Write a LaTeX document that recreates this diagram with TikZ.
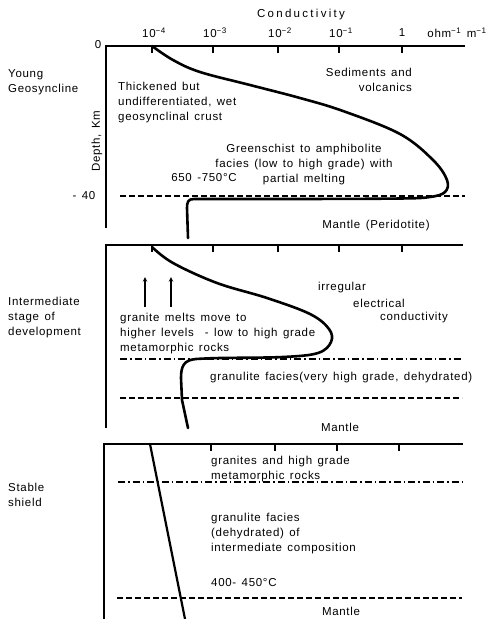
\documentclass[tikz,border=0pt]{standalone}
\usepackage{fontspec}
\setmainfont{Liberation Sans}[LetterSpace=6,WordSpace={1.4}]
\tikzset{
  axisline/.style={line width=1.3pt},
  profile/.style={line width=2.6pt, line join=round, line cap=round},
  boundary/.style={line width=1.1pt, dash pattern=on 6pt off 3pt},
  facies/.style={line width=1.1pt, dash pattern=on 7pt off 3pt on 1.5pt off 3pt},
  lbl/.style={anchor=west, align=left, inner sep=0pt},
}
\begin{document}
\begin{tikzpicture}[x=1pt,y=-1pt,font=\fontsize{11.5}{15}\selectfont]
\useasboundingbox (0,0) rectangle (497,619);

% scale
\node (title) at (301,15) {\addfontfeatures{LetterSpace=20}Conductivity};
\node (t4) at (154,33) {10\textsuperscript{−4}};
\node (t3) at (215,33) {10\textsuperscript{−3}};
\node (t2) at (280,33) {10\textsuperscript{−2}};
\node (t1) at (341,33) {10\textsuperscript{−1}};
\node (t0) at (402,33) {1};
\node (unit) at (457,33) {ohm\textsuperscript{−1} m\textsuperscript{−1}};

% young geosyncline
\draw[axisline] (106,228) -- (106,46) -- (465,46);
\foreach \x in {152,213,278,339,402} \draw[axisline] (\x,46) -- (\x,53);
\node (zero) at (98,45) {0};
\node (forty) at (84,196) {- 40};
\node[rotate=90] (depth) at (97,141) {Depth, Km};
\draw[boundary] (120,196) -- (465,196);
\draw[profile] plot[smooth, tension=0.6] coordinates {(152,46) (173,60) (200,72) (250,85) (300,98) (343,111) (400,134) (433,160) (447,180) (445,192) (430,197) (400,198.5) (300,199) (200,199)}
  -- (194,199) .. controls (188,199) and (187,202) .. (187,208) -- (188,238);
\node[lbl] (young) at (8,82) {Young\\Geosyncline};
\node[lbl] (crust) at (118,103) {Thickened but\\undifferentiated, wet\\geosynclinal crust};
\node[anchor=east, align=right, inner sep=0pt] (sed) at (412,80) {Sediments and\\volcanics};
\node[align=center, inner sep=0pt] (green) at (304,165) {Greenschist to amphibolite\\facies (low to high grade) with\\partial melting};
\node (temp1) at (204,178) {650 -750°C};
\node (mantle1) at (376,226) {Mantle (Peridotite)};

% intermediate stage
\draw[axisline] (106,428) -- (106,245) -- (463,245);
\foreach \x in {152,213,278,339,402} \draw[axisline] (\x,245) -- (\x,252);
\draw[profile] plot[smooth, tension=0.6] coordinates {(152,247) (173,263) (217,283) (267,298) (310,314) (329,329) (331,342) (318,353) (283,357) (220,358) (196,359)}
  .. controls (184,360) and (181,366) .. (181,378) -- (182,400) -- (188,428);
\coordinate (melt1a) at (145,307);
\coordinate (melt1b) at (145,277);
\coordinate (melt2a) at (171,307);
\coordinate (melt2b) at (171,277);
\draw[line width=1.1pt,-stealth] (melt1a) -- (melt1b);
\draw[line width=1.1pt,-stealth] (melt2a) -- (melt2b);
\draw[facies] (120,359) -- (462,359);
\draw[boundary] (120,398) -- (462,398);
\node[lbl] (inter) at (8,318) {Intermediate\\stage of\\development};
\node[lbl] (melts) at (120,334) {granite melts move to\\higher levels \ - low to high grade\\metamorphic rocks};
\node[lbl] (irr1) at (318,288) {irregular};
\node[lbl] (irr2) at (353,303) {electrical};
\node[lbl] (irr3) at (380,318) {conductivity};
\node[lbl] (gran1) at (210,378) {granulite facies(very high grade, dehydrated)};
\node (mantle2) at (340,427) {Mantle};

% stable shield
\draw[axisline] (104,619) -- (104,444) -- (463,444);
\foreach \x in {211,275,337,399} \draw[axisline] (\x,444) -- (\x,451);
\draw[profile, line width=2.2pt] (150,444) -- (185,619);
\draw[facies] (118,482) -- (462,482);
\draw[boundary] (117,598) -- (462,598);
\node[lbl] (shield) at (8,495) {Stable\\shield};
\node[lbl] (gran2) at (211,469) {granites and high grade\\metamorphic rocks};
\node[lbl] (gran3) at (211,534) {granulite facies\\(dehydrated) of\\intermediate composition};
\node[lbl] (temp2) at (211,583) {400- 450°C};
\node (mantle3) at (341,611) {Mantle};
\end{tikzpicture}
\end{document}
